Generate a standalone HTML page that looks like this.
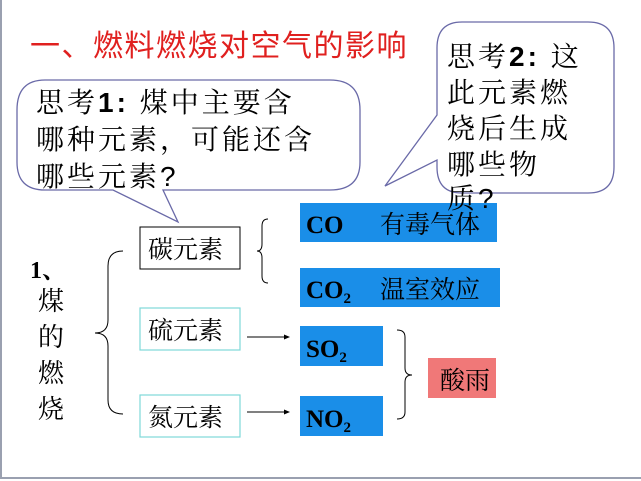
<!DOCTYPE html>
<html><head><meta charset="utf-8"><style>
html,body{margin:0;padding:0;background:#fff;}
body{width:641px;height:481px;overflow:hidden;position:relative;}
svg{position:absolute;left:0;top:0;}
.k{font-family:"Liberation Sans","Noto Serif CJK SC",serif;font-size:28px;fill:#000;letter-spacing:3px;}
.s{font-family:"Liberation Serif","Noto Serif CJK SC",serif;fill:#000;}
</style></head><body>
<svg width="641" height="481" viewBox="0 0 641 481">
<line x1="1" y1="0" x2="1" y2="478" stroke="#9aa0b0" stroke-width="2"/>
<line x1="0" y1="478" x2="641" y2="478" stroke="#9aa0b0" stroke-width="2"/>
<text x="30" y="56" font-family="Liberation Sans,Noto Sans CJK SC,sans-serif" font-size="30" letter-spacing="1.5" fill="#e0201f">一、燃料燃烧对空气的影响</text>
<!-- bubble 1 -->
<path d="M45,80 H330 Q360,80 360,110 V162 Q360,190 330,190 H163 L178,222 L113,190 H45 Q17,190 17,162 V110 Q17,80 45,80 Z" fill="#fff" stroke="#6a6aa8" stroke-width="1.3"/>
<text class="k" x="36" y="112">思考<tspan font-weight="bold">1:</tspan> 煤中主要含</text>
<text class="k" x="36" y="149">哪种元素，可能还含</text>
<text class="k" x="36" y="186">哪些元素?</text>
<!-- bubble 2 -->
<path d="M462,22 H588 Q614,22 614,48 V167 Q614,193 588,193 H462 Q437,193 437,167 V160 L385,186 L437,115 V48 Q437,22 462,22 Z" fill="#fff" stroke="#6a6aa8" stroke-width="1.3"/>
<text class="k" x="447" y="66">思考<tspan font-weight="bold">2:</tspan> 这</text>
<text class="k" x="447" y="102">此元素燃</text>
<text class="k" x="447" y="138">烧后生成</text>
<text class="k" x="447" y="174">哪些物</text>
<!-- blue boxes -->
<rect x="300" y="203" width="197" height="39" fill="#1a8ee8"/>
<rect x="300" y="268" width="200" height="39" fill="#1a8ee8"/>
<rect x="300" y="326" width="83" height="40" fill="#1a8ee8"/>
<rect x="300" y="396" width="83" height="40" fill="#1a8ee8"/>
<rect x="428" y="358" width="68" height="40" fill="#f07878"/>
<text class="k" x="447" y="208">质?</text>
<text class="s" x="306" y="233" font-size="25" font-weight="bold">CO</text>
<text class="s" x="380" y="233" font-size="25">有毒气体</text>
<text class="s" x="306" y="298" font-size="25" font-weight="bold">CO<tspan font-size="15" dy="5">2</tspan></text>
<text class="s" x="380" y="298" font-size="25">温室效应</text>
<text class="s" x="306" y="357" font-size="25" font-weight="bold">SO<tspan font-size="15" dy="5">2</tspan></text>
<text class="s" x="306" y="427" font-size="25" font-weight="bold">NO<tspan font-size="15" dy="5">2</tspan></text>
<text class="s" x="440" y="389" font-size="25">酸雨</text>
<!-- element boxes -->
<rect x="140" y="227" width="100" height="42" fill="#fff" stroke="#000" stroke-width="1"/>
<rect x="140" y="308" width="100" height="42" fill="#fff" stroke="#7fd8d8" stroke-width="1.2"/>
<rect x="140" y="395" width="100" height="42" fill="#fff" stroke="#7fd8d8" stroke-width="1.2"/>
<text class="s" x="148" y="258" font-size="25">碳元素</text>
<text class="s" x="148" y="339" font-size="25">硫元素</text>
<text class="s" x="148" y="426" font-size="25">氮元素</text>
<!-- left label -->
<text class="s" x="30" y="278" font-size="24" font-weight="bold">1、</text>
<text class="s" x="38" y="310" font-size="26">煤</text>
<text class="s" x="38" y="346" font-size="26">的</text>
<text class="s" x="38" y="382" font-size="26">燃</text>
<text class="s" x="38" y="418" font-size="26">烧</text>
<!-- braces -->
<path d="M123,251 Q108,251 108,266 V320 Q108,333 95,333 Q108,333 108,346 V400 Q108,414 123,414" fill="none" stroke="#000" stroke-width="1"/>
<path d="M268,219 Q262,219 262,226 V244 Q262,251 257,251 Q262,251 262,258 V276 Q262,283 268,283" fill="none" stroke="#000" stroke-width="1"/>
<path d="M397,330 Q405,330 405,337 V368 Q405,375 412,375 Q405,375 405,382 V412 Q405,419 397,419" fill="none" stroke="#000" stroke-width="1"/>
<!-- arrows -->
<line x1="247" y1="337" x2="286" y2="337" stroke="#000" stroke-width="1"/>
<path d="M290,337 L284,334.5 L284,339.5 Z" fill="#000"/>
<line x1="247" y1="412" x2="286" y2="412" stroke="#000" stroke-width="1"/>
<path d="M290,412 L284,409.5 L284,414.5 Z" fill="#000"/>
</svg>
</body></html>
